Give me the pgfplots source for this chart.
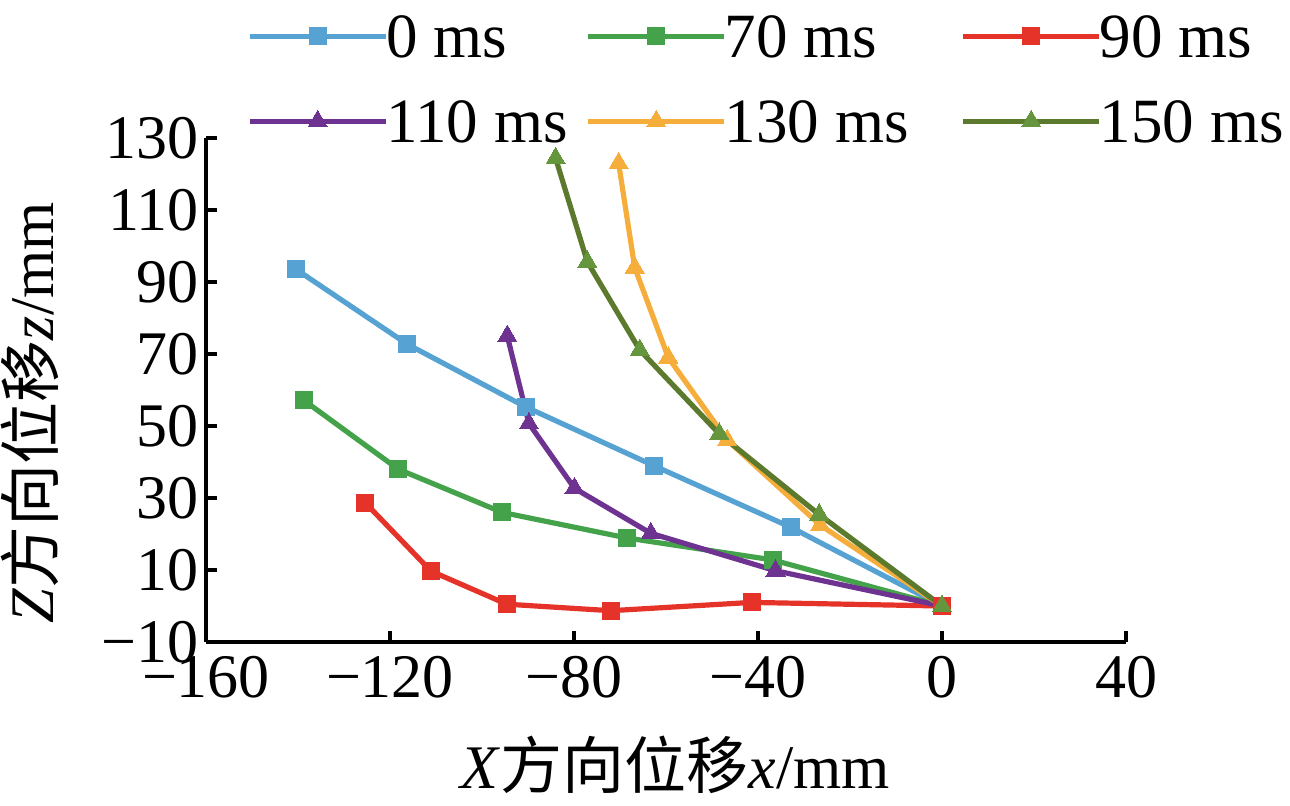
\documentclass[border=0pt]{standalone}
\usepackage{fontspec}
\setmainfont{Liberation Serif}
\newfontfamily\cjk{Noto Sans CJK SC}
\usepackage{pgfplots}
\pgfplotsset{compat=1.18}
\definecolor{cA}{HTML}{55A2D3}
\definecolor{cB}{HTML}{44A24A}
\definecolor{cC}{HTML}{E53329}
\definecolor{cD}{HTML}{6E3391}
\definecolor{cE}{HTML}{F5AE3B}
\definecolor{cF}{HTML}{5B7A2E}
\definecolor{cFm}{HTML}{65953C}
\begin{document}
\begin{tikzpicture}
\useasboundingbox (-103pt,-81.5pt) rectangle (542pt,321pt);
\begin{axis}[
  at={(0,0)}, anchor=south west,
  scale only axis, width=460pt, height=252pt,
  xmin=-160, xmax=40, ymin=-10, ymax=130,
  axis x line*=bottom, axis y line*=left,
  xtick={-160,-120,-80,-40,0,40},
  xticklabels={−160,−120,−80,−40,0,40},
  ytick={-10,10,30,50,70,90,110,130},
  yticklabels={−10,10,30,50,70,90,110,130},
  tick align=inside, major tick length=5.5pt,
  every tick/.style={black, line width=2pt},
  axis line style={line width=2pt, black},
  ticklabel style={font=\fontsize{31}{34}\selectfont},
  xticklabel style={yshift=-3.5pt},
  label style={font=\fontsize{31}{35}\selectfont},
  xlabel={\textit{X}{\cjk 方向位移}\textit{x}/mm},
  ylabel={\textit{Z}{\cjk 方向位移}\textit{z}/mm},
  xlabel style={at={(axis description cs:0.51,-0.244)}, anchor=center},
  ylabel style={at={(axis description cs:-0.192,0.455)}, anchor=center},
  clip=false,
  legend columns=3,
  legend cell align=left,
  legend style={draw=none, fill=none, inner sep=0pt, outer sep=0pt,
    at={(axis description cs:0.0446,1.244)}, anchor=north west,
    font=\fontsize{31.5}{35}\selectfont,
    nodes={inner sep=0pt, text height=21.4pt, text depth=0pt},
    column sep=-1pt, row sep=21pt},
  legend image code/.code={\draw[mark repeat=2,mark phase=2] plot coordinates {(0pt,0pt) (34pt,0pt) (68pt,0pt)};},
  every axis plot/.append style={line width=2.6pt},
]
\addplot[cA, mark=square*, mark size=4.25pt, mark options={solid, fill=cA, draw=cA, line width=0pt}] coordinates {
(-140.4,93.5) (-116.2,72.7) (-90.5,55.3) (-62.5,38.9) (-32.9,21.9) (0,0)};
\addlegendentry{0 ms\kern10pt}
\addplot[cB, mark=square*, mark size=4.25pt, mark options={solid, fill=cB, draw=cB, line width=0pt}] coordinates {
(-138.8,57.2) (-118.2,38) (-95.6,26) (-68.5,18.9) (-36.8,12.8) (0,0)};
\addlegendentry{70 ms\kern27pt}
\addplot[cC, mark=square*, mark size=4.25pt, mark options={solid, fill=cC, draw=cC, line width=0pt}] coordinates {
(-125.4,28.7) (-111.1,9.7) (-94.6,0.5) (-72,-1.3) (-41.4,1.0) (0,0)};
\addlegendentry{90 ms}
\addplot[cD, mark=triangle*, mark size=5.5pt, mark options={solid, fill=cD, draw=cD, line width=0pt}] coordinates {
(-94.5,75) (-89.8,50.7) (-79.9,32.7) (-63.3,20.2) (-36.2,9.8) (0,0)};
\addlegendentry{110 ms\kern10pt}
\addplot[cE, mark=triangle*, mark size=5.5pt, mark options={solid, fill=cE, draw=cE, line width=0pt}] coordinates {
(-70.3,123) (-66.8,94) (-59.5,69) (-46.7,46.1) (-26.5,22.5) (0,0)};
\addlegendentry{130 ms\kern27pt}
\addplot[cF, mark=triangle*, mark size=5.5pt, mark options={solid, fill=cFm, draw=cFm, line width=0pt}] coordinates {
(-84,124.4) (-77.1,95.6) (-65.7,71.1) (-48.4,47.8) (-26.7,25.4) (0,0)};
\addlegendentry{150 ms}
\end{axis}
\end{tikzpicture}
\end{document}
